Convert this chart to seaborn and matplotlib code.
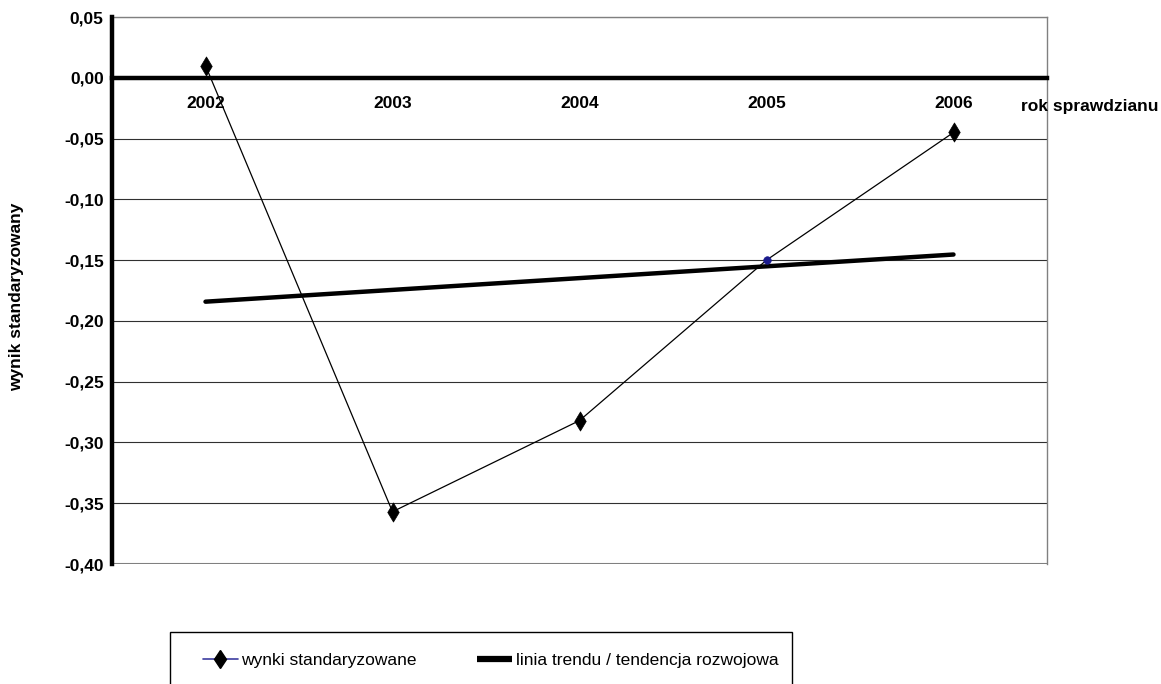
import numpy as np
import pandas as pd
import matplotlib
matplotlib.use("Agg")
import matplotlib.pyplot as plt
from matplotlib.lines import Line2D
from matplotlib.patches import Rectangle
from matplotlib.ticker import FuncFormatter, FixedLocator
import seaborn as sns

# Standardised exam results per year
years = ["2002", "2003", "2004", "2005", "2006"]
values = [0.010, -0.357, -0.282, -0.150, -0.045]
y_ticks = [0.05, 0.00, -0.05, -0.10, -0.15, -0.20, -0.25, -0.30, -0.35, -0.40]
highlight_year = "2005"

sns.set_style("white")
plt.rcParams["font.family"] = ["Liberation Sans", "DejaVu Sans"]
plt.rcParams["text.color"] = "black"
plt.rcParams["xtick.color"] = "black"
plt.rcParams["ytick.color"] = "black"
plt.rcParams["axes.labelcolor"] = "black"
FS = 12.5

df = pd.DataFrame({"rok": years, "pos": np.arange(len(years)), "wynik": values})

# Linear trend fitted to the yearly results
coef = np.polyfit(df["pos"], df["wynik"], 1)
df["trend"] = np.polyval(coef, df["pos"])

fig = plt.figure(figsize=(11.61, 6.84), dpi=100)
ax = fig.add_axes([112 / 1161, 1 - 564 / 684, (1047 - 112) / 1161, (564 - 17) / 684])

sns.lineplot(data=df, x="pos", y="trend", ax=ax, color="black", lw=3.2,
             legend=False, zorder=3)
sns.lineplot(data=df, x="pos", y="wynik", ax=ax, color="black", lw=0.9,
             legend=False, zorder=4)
normal = df[df["rok"] != highlight_year]
hl = df[df["rok"] == highlight_year]
sns.scatterplot(data=normal, x="pos", y="wynik", ax=ax, color="black", marker="d",
                s=95, edgecolor="black", linewidth=0.5, legend=False, zorder=5)
sns.scatterplot(data=hl, x="pos", y="wynik", ax=ax, color="#1a1a8c", marker="o",
                s=30, edgecolor="#1a1a8c", legend=False, zorder=5)

ax.set_xlim(-0.5, len(years) - 0.5)
ax.set_ylim(min(y_ticks), max(y_ticks))
ax.set_xlabel("")
ax.set_ylabel("")

# Y axis: comma decimals, bold labels
ax.yaxis.set_major_locator(FixedLocator(y_ticks))
ax.yaxis.set_major_formatter(FuncFormatter(lambda v, p: f"{v:.2f}".replace(".", ",").replace("-0,00", "0,00")))
ax.tick_params(axis="y", which="major", direction="out", length=3, width=2.5,
               color="black", pad=3, labelsize=FS)
for t in ax.get_yticklabels():
    t.set_fontweight("bold")

# X axis sits on the zero line, category labels below it
ax.spines["bottom"].set_position(("data", 0))
ax.set_xticks(df["pos"])
ax.set_xticklabels(years, fontsize=FS, fontweight="bold")
ax.set_xticks(np.arange(-0.5, len(years)), minor=True)
ax.tick_params(axis="x", which="major", length=0, pad=13)
ax.tick_params(axis="x", which="minor", direction="out", length=4, width=2.5,
               color="black")

ax.grid(axis="y", color="#303030", lw=0.8)
ax.grid(axis="x", visible=False)
glines = ax.get_ygridlines()
glines[0].set_color("#808080")
glines[-1].set_color("#808080")
glines[-1].set_linewidth(1.5)

for side in ("top", "right"):
    ax.spines[side].set_visible(True)
    ax.spines[side].set_color("#808080")
    ax.spines[side].set_linewidth(1.0)
ax.spines["left"].set_color("black")
ax.spines["left"].set_linewidth(3.2)
ax.spines["bottom"].set_color("black")
ax.spines["bottom"].set_linewidth(3.2)
ax.spines["left"].set_zorder(6)
ax.spines["bottom"].set_zorder(6)

fig.text(1021 / 1161, 1 - 107 / 684, "rok sprawdzianu", fontsize=FS,
         fontweight="bold", ha="left", va="center")
fig.text(17 / 1161, 1 - 297 / 684, "wynik standaryzowany", fontsize=FS,
         fontweight="bold", rotation=90, ha="center", va="center")

# Legend box below the plot
fig.patches.append(Rectangle((170 / 1161, -0.05), (792 - 170) / 1161,
                             1 - 632 / 684 + 0.05, transform=fig.transFigure,
                             facecolor="white", edgecolor="black", lw=1.0,
                             clip_on=False))
handles = [
    Line2D([], [], color="#3c3ca0", lw=1.2, marker="d", markersize=9.5,
           markerfacecolor="black", markeredgecolor="black"),
    Line2D([], [], color="black", lw=4.5, solid_capstyle="butt"),
]
fig.legend(handles, ["wynki standaryzowane", "linia trendu / tendencja rozwojowa"],
           loc="center left", bbox_to_anchor=(203 / 1161, 1 - 660 / 684),
           ncol=2, frameon=False, fontsize=FS, borderpad=0, handlelength=2.0,
           handletextpad=0.2, columnspacing=3.5, borderaxespad=0)

fig.savefig("out.png", dpi=100)
